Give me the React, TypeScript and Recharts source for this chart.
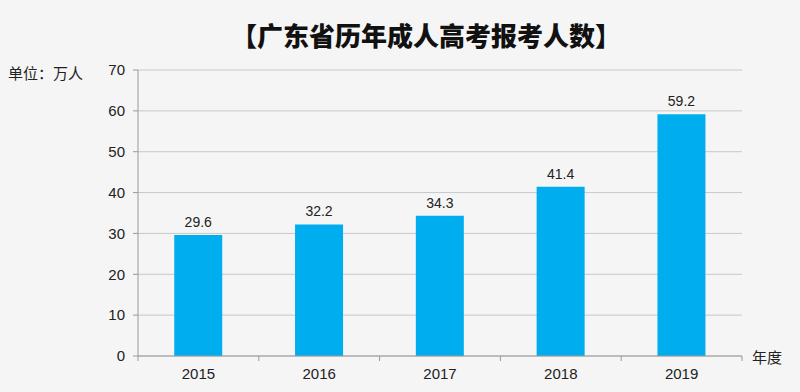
import React from "react";
import { BarChart, Bar, XAxis, YAxis, CartesianGrid, LabelList } from "recharts";

const years = ["2015", "2016", "2017", "2018", "2019"];
const applicants = [29.6, 32.2, 34.3, 41.4, 59.2];
const yTicks = [0, 10, 20, 30, 40, 50, 60, 70];

const data = years.map((y, i) => ({ year: y, value: applicants[i] }));

const FONT = "'Noto Sans CJK SC', 'Noto Sans', sans-serif";
const NUM_FONT = "'Liberation Sans', Arial, sans-serif";
const HALF_BAND = 60.4;

const XTick = (props: any) => {
  const { x, y, payload, index } = props;
  const last = index === years.length - 1;
  return (
    <g>
      <line x1={x - HALF_BAND} y1={y - 8} x2={x - HALF_BAND} y2={y - 3} stroke="#999" />
      {last && <line x1={x + HALF_BAND} y1={y - 8} x2={x + HALF_BAND} y2={y - 3} stroke="#999" />}
      <text x={x} y={y + 15} textAnchor="middle" fontSize={15} fill="#222" fontFamily={NUM_FONT}>
        {payload.value}
      </text>
    </g>
  );
};

export default function App() {
  return (
    <div style={{ position: "absolute", left: 0, top: 0, width: 800, height: 392, background: "#f5f5f5" }}>
      <div
        style={{
          position: "absolute",
          left: 0,
          width: 800,
          top: 17,
          textAlign: "center",
          fontFamily: FONT,
          fontWeight: 900,
          fontSize: 26,
          lineHeight: "36px",
          color: "#111",
          paddingLeft: 52,
          boxSizing: "border-box",
        }}
      >
        【广东省历年成人高考报考人数】
      </div>
      <div
        style={{
          position: "absolute",
          left: 8,
          top: 62,
          fontFamily: FONT,
          fontSize: 15,
          color: "#222",
        }}
      >
        单位：万人
      </div>
      <div
        style={{
          position: "absolute",
          left: 752,
          top: 346,
          fontFamily: FONT,
          fontSize: 15,
          color: "#222",
        }}
      >
        年度
      </div>
      <BarChart
        width={800}
        height={392}
        data={data}
        margin={{ top: 70, right: 58, bottom: 0, left: 0 }}
        barCategoryGap="30%"
        style={{ position: "absolute", left: 0, top: 0 }}
      >
        <CartesianGrid vertical={false} stroke="#c8c8c8" />
        <XAxis
          dataKey="year"
          height={36}
          axisLine={{ stroke: "#999" }}
          tickLine={false}
          tick={<XTick />}
          interval={0}
        />
        <YAxis
          width={138}
          domain={[0, 70]}
          ticks={yTicks}
          interval={0}
          axisLine={{ stroke: "#999" }}
          tickLine={{ stroke: "#999" }}
          tickSize={5}
          tickMargin={8}
          tick={{ fontSize: 15, fill: "#222", fontFamily: NUM_FONT }}
        />
        <Bar dataKey="value" fill="#00AEEF" isAnimationActive={false}>
          <LabelList dataKey="value" position="top" offset={8} fontSize={14} fill="#222" fontFamily={NUM_FONT} />
        </Bar>
      </BarChart>
    </div>
  );
}
